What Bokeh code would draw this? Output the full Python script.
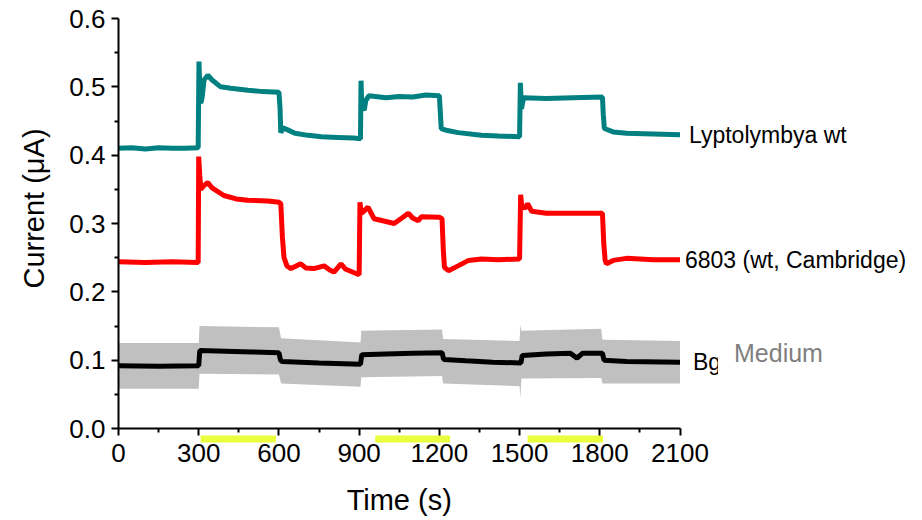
import math
from bokeh.plotting import figure
from bokeh.models import (Range1d, FixedTicker, NumeralTickFormatter, Label,
                          LinearAxis)
from bokeh.embed import file_html
from bokeh.resources import INLINE

# ---------------- data ----------------
teal_t = [0, 50, 100, 150, 200, 250, 298, 301, 304, 308, 313, 320, 334, 350, 382, 420,
          484, 540, 600, 604, 607, 615, 633, 660, 709, 760, 820, 880, 905, 907, 910,
          919, 925, 937, 1000, 1050, 1100, 1150, 1200, 1204, 1207, 1230, 1271, 1357,
          1420, 1500, 1503, 1507, 1515, 1600, 1700, 1810, 1813, 1817, 1850, 1900, 2000, 2100]
teal_v = [0.410, 0.411, 0.409, 0.411, 0.410, 0.410, 0.411, 0.537, 0.500, 0.476, 0.485,
          0.510, 0.517, 0.510, 0.500, 0.498, 0.495, 0.493, 0.492, 0.470, 0.433, 0.440,
          0.437, 0.432, 0.429, 0.427, 0.426, 0.425, 0.424, 0.509, 0.470, 0.466, 0.480,
          0.487, 0.484, 0.486, 0.485, 0.488, 0.487, 0.460, 0.439, 0.436, 0.433, 0.429,
          0.428, 0.427, 0.506, 0.468, 0.484, 0.483, 0.484, 0.485, 0.460, 0.439, 0.434,
          0.432, 0.431, 0.430]

red_t = [0, 100, 200, 298, 300, 304, 308, 318, 334, 350, 394, 440, 484, 559, 600, 607,
         613, 619, 630, 645, 682, 700, 731, 769, 790, 806, 832, 850, 900, 903, 908, 918,
         933, 956, 1000, 1031, 1060, 1084, 1100, 1121, 1133, 1200, 1210, 1215, 1219,
         1234, 1270, 1309, 1357, 1420, 1500, 1504, 1508, 1520, 1530, 1545, 1600, 1700,
         1810, 1815, 1820, 1825, 1850, 1900, 2000, 2100]
red_v = [0.244, 0.243, 0.244, 0.243, 0.398, 0.370, 0.350, 0.355, 0.360, 0.352, 0.341,
         0.336, 0.334, 0.333, 0.331, 0.329, 0.280, 0.250, 0.238, 0.234, 0.241, 0.235,
         0.234, 0.238, 0.232, 0.229, 0.241, 0.233, 0.225, 0.331, 0.315, 0.318, 0.324,
         0.307, 0.303, 0.300, 0.308, 0.315, 0.308, 0.304, 0.310, 0.309, 0.307, 0.260,
         0.236, 0.231, 0.238, 0.246, 0.248, 0.247, 0.248, 0.342, 0.326, 0.322, 0.329,
         0.318, 0.315, 0.315, 0.315, 0.270, 0.246, 0.241, 0.246, 0.249, 0.247, 0.247]

bg_t = [0, 150, 300, 304, 400, 500, 600, 606, 612, 750, 905, 910, 1000, 1100, 1210,
        1216, 1300, 1400, 1505, 1510, 1600, 1690, 1715, 1735, 1810, 1816, 1900, 2100]
bg_v = [0.092, 0.091, 0.092, 0.114, 0.113, 0.112, 0.111, 0.100, 0.098, 0.096, 0.094,
        0.108, 0.109, 0.110, 0.111, 0.101, 0.099, 0.097, 0.096, 0.107, 0.109, 0.110,
        0.103, 0.110, 0.110, 0.100, 0.098, 0.097]

band_t = [0, 300, 303, 600, 608, 905, 908, 1210, 1214, 1500, 1503, 1507, 1805, 1810, 2100]
band_lo = [0.058, 0.058, 0.080, 0.079, 0.066, 0.061, 0.075, 0.077, 0.066, 0.062, 0.045,
           0.073, 0.074, 0.066, 0.066]
band_hi = [0.125, 0.125, 0.150, 0.148, 0.132, 0.126, 0.143, 0.145, 0.131, 0.128, 0.152,
           0.143, 0.146, 0.130, 0.128]

light_start = [307, 960, 1530]
light_end = [589, 1240, 1812]

x_ticks = [0, 300, 600, 900, 1200, 1500, 1800, 2100]
x_minor = [150, 450, 750, 1050, 1350, 1650, 1950]
y_ticks = [0.0, 0.1, 0.2, 0.3, 0.4, 0.5, 0.6]
y_minor = [0.05, 0.15, 0.25, 0.35, 0.45, 0.55]

series_names = ["Lyptolymbya wt", "6803 (wt, Cambridge)", "Bg"]
medium_text = "Medium"
x_title = "Time (s)"
y_title = "Current (\u03bcA)"

FONT = "Liberation Sans"
X_MAX, Y_MAX = x_ticks[-1], y_ticks[-1]

# ---------------- layout (pixels) ----------------
W, H = 920, 518
AX_LEFT, AX_RIGHT = 118.0, 679.5     # pixel of x=0 and x=X_MAX
AX_BOTTOM, AX_TOP = 428.0, 18.0      # pixel of y=0 and y=Y_MAX
sx = (AX_RIGHT - AX_LEFT) / X_MAX
sy = (AX_BOTTOM - AX_TOP) / Y_MAX
x_range = Range1d(-AX_LEFT / sx, (W - AX_LEFT) / sx)
y_range = Range1d(-(H - AX_BOTTOM) / sy, Y_MAX + AX_TOP / sy)

p = figure(width=W, height=H, output_backend="svg", toolbar_location=None,
           x_range=x_range, y_range=y_range,
           x_axis_location=None, y_axis_location=None,
           min_border_left=0, min_border_right=0, min_border_top=0,
           min_border_bottom=0)
p.outline_line_color = None
p.grid.visible = False

p.varea(x=band_t, y1=band_lo, y2=band_hi, fill_color="#c0c0c0")
p.line(bg_t, bg_v, line_color="black", line_width=5)
p.line(red_t, red_v, line_color="#ff0000", line_width=5)
p.line(teal_t, teal_v, line_color="#008080", line_width=5)

# light periods, drawn just under the time axis
p.quad(left=light_start, right=light_end, top=-7 / sy, bottom=-14 / sy,
       fill_color="#eaff3c", line_color=None)

xaxis = LinearAxis(fixed_location=0, bounds=(0, X_MAX),
                   ticker=FixedTicker(ticks=x_ticks, minor_ticks=x_minor))
yaxis = LinearAxis(fixed_location=0, bounds=(0, Y_MAX),
                   ticker=FixedTicker(ticks=y_ticks, minor_ticks=y_minor),
                   formatter=NumeralTickFormatter(format="0.0"))
for ax in (xaxis, yaxis):
    ax.axis_line_width = 2
    ax.major_tick_line_width = 2
    ax.minor_tick_line_width = 2
    ax.major_tick_out = 7
    ax.major_tick_in = 0
    ax.minor_tick_out = 4
    ax.minor_tick_in = 0
    ax.major_label_text_font = FONT
    ax.major_label_text_font_size = "26px"
    ax.major_label_text_color = "black"
xaxis.major_label_standoff = 8
yaxis.major_label_standoff = 6
p.add_layout(xaxis, "below")
p.add_layout(yaxis, "left")

# axis titles
p.add_layout(Label(x=X_MAX / 2, y=0, y_offset=-(499 - AX_BOTTOM), text=x_title,
                   text_align="center", text_baseline="middle", text_font=FONT,
                   text_font_size="29px", text_color="black"))
p.add_layout(Label(x=0, y=Y_MAX / 2, x_offset=-(AX_LEFT - 33), y_offset=15,
                   text=y_title, angle=math.pi / 2, text_align="center",
                   text_baseline="middle", text_font=FONT, text_font_size="29px",
                   text_color="black"))

# series labels at the right end of each trace
ends = [teal_v[-1], red_v[-1], bg_v[-1]]
offsets = [9, 5, 13]
for name, yv, off in zip(series_names, ends, offsets):
    p.add_layout(Label(x=teal_t[-1], y=yv, x_offset=off, text=name,
                       text_baseline="middle", text_font=FONT,
                       text_font_size="23px", text_color="black"))
p.add_layout(Label(x=teal_t[-1], y=bg_v[-2] + 0.013, x_offset=38, text=medium_text,
                   text_baseline="middle", text_font=FONT, text_font_size="25px",
                   text_color="#7f7f7f", background_fill_color="white",
                   background_fill_alpha=1.0, padding=16))

open("out.html", "w").write(file_html(p, INLINE))
